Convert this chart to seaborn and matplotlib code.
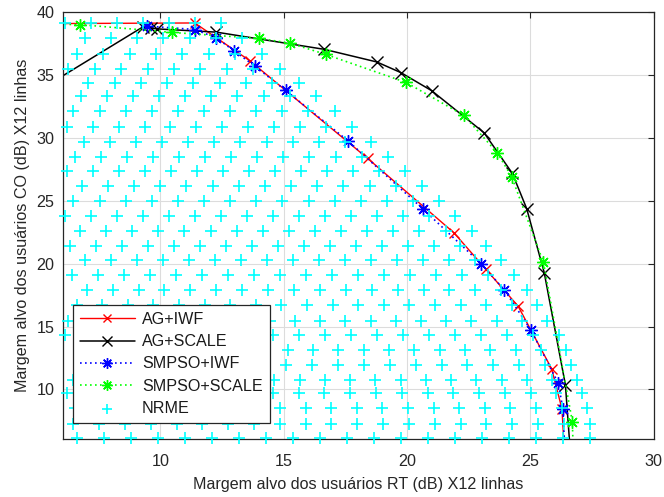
import numpy as np
import pandas as pd
import matplotlib
matplotlib.use("Agg")
import matplotlib.pyplot as plt
import seaborn as sns

# ---------------- data ----------------
ag_iwf_x = [5.5, 11.39, 13.62, 18.40, 21.90, 23.19, 24.50, 25.86, 26.28, 26.38]
ag_iwf_y = [39.10, 39.15, 36.15, 28.38, 22.46, 19.57, 16.63, 11.65, 8.45, 5.00]

ag_scale_x = [5.5, 9.30, 9.60, 9.85, 12.27, 16.65, 18.77, 19.75, 21.00, 23.12, 24.27, 24.85, 25.56, 26.42, 26.62]
ag_scale_y = [34.30, 38.85, 38.75, 38.68, 38.42, 37.05, 36.05, 35.20, 33.76, 30.42, 27.18, 24.38, 19.30, 10.36, 5.00]

smpso_iwf_x = [9.45, 11.39, 12.27, 12.97, 13.82, 15.08, 17.60, 20.63, 23.00, 23.95, 25.03, 26.13, 26.32, 26.40]
smpso_iwf_y = [38.90, 38.63, 37.97, 36.95, 35.73, 33.78, 29.78, 24.38, 20.00, 17.90, 14.70, 10.50, 8.43, 5.00]

smpso_scale_x = [5.5, 6.75, 10.45, 14.00, 15.25, 16.70, 19.96, 22.30, 23.66, 24.24, 25.53, 26.70, 26.74]
smpso_scale_y = [39.05, 39.02, 38.40, 37.92, 37.55, 36.65, 34.42, 31.80, 28.82, 26.92, 20.10, 7.45, 5.00]

# NRME region: rows of '+' markers (row height, first / last point, number of points)
nrme_row_y = [39.17, 37.97, 36.72, 35.52, 34.37, 33.31, 32.11, 30.90, 29.68, 28.50,
              27.35, 26.17, 24.97, 23.78, 22.59, 21.45, 20.26, 19.07, 17.88, 16.69,
              15.47, 14.30, 13.10, 11.93, 10.74, 9.68, 8.49, 7.25, 6.11]
nrme_row_first = [6.14, 6.94, 6.61, 6.27, 7.08, 6.79, 6.47, 6.20, 6.88, 6.54,
                  6.20, 6.81, 6.47, 6.15, 6.74, 6.34, 6.95, 6.41, 7.01, 6.60,
                  6.24, 6.14, 6.94, 6.69, 6.44, 6.20, 6.55, 6.47, 6.61]
nrme_row_last = [12.47, 13.30, 14.10, 14.83, 15.60, 16.29, 17.06, 17.77, 18.54, 19.21,
                 19.93, 20.60, 21.30, 21.95, 22.62, 23.22, 23.80, 24.33, 24.87, 25.28,
                 25.68, 26.15, 26.45, 26.65, 26.90, 27.10, 27.30, 27.40, 27.43]
nrme_row_count = [7, 7, 8, 9, 9, 10, 11, 12, 12, 13,
                  14, 14, 15, 16, 16, 17, 17, 18, 18, 19,
                  20, 20, 20, 20, 21, 21, 21, 21, 20]

x_ticks = [10, 15, 20, 25, 30]
y_ticks = [10, 15, 20, 25, 30, 35, 40]

# ---------------- style ----------------
sns.set_style("white")
plt.rcParams["font.family"] = ["Liberation Sans", "DejaVu Sans"]
TXT = "#262626"
FS = 11.6

fig = plt.figure(figsize=(6.64, 4.97), dpi=100)
ax = fig.add_axes([0.0953, 0.1167, 0.8892, 0.8586])

ast = (8, 2, 0)  # MATLAB-like asterisk

series = [
    ("AG+IWF", ag_iwf_x, ag_iwf_y, "#ff0000", "-", "x", 7, 1.0),
    ("AG+SCALE", ag_scale_x, ag_scale_y, "#000000", "-", "x", 8, 1.1),
    ("SMPSO+IWF", smpso_iwf_x, smpso_iwf_y, "#0000ff", (0, (1, 2)), ast, 9, 1.2),
    ("SMPSO+SCALE", smpso_scale_x, smpso_scale_y, "#00ff00", (0, (1, 2)), ast, 9, 1.2),
]
for name, xs, ys, col, ls, mk, ms, lw in series:
    df = pd.DataFrame({"x": xs, "y": ys})
    sns.lineplot(data=df, x="x", y="y", sort=False, estimator=None, ax=ax,
                 color=col, linestyle=ls, linewidth=lw, marker=mk,
                 markersize=ms, markeredgecolor=col, markerfacecolor=col,
                 markeredgewidth=1.0, label=name)

rows = []
for yv, x0, x1, n in zip(nrme_row_y, nrme_row_first, nrme_row_last, nrme_row_count):
    for xv in np.linspace(x0, x1, n):
        rows.append((xv, yv))
nrme = pd.DataFrame(rows, columns=["x", "y"])
sns.scatterplot(data=nrme, x="x", y="y", ax=ax, marker="+", s=85,
                color="#00ffff", linewidth=1.2, label="NRME", clip_on=False,
                zorder=3)

ax.set_xlim(6.06, 30)
ax.set_ylim(6.06, 40)
ax.set_xticks(x_ticks)
ax.set_yticks(y_ticks)
ax.grid(True, color="#dcdcdc", linewidth=0.8)
ax.set_axisbelow(True)
for sp in ax.spines.values():
    sp.set_visible(True)
    sp.set_color(TXT)
    sp.set_linewidth(0.9)
ax.tick_params(direction="in", length=4, width=0.8, top=True, right=True,
               colors=TXT, labelsize=FS)
ax.tick_params(axis="x", pad=11)
ax.tick_params(axis="y", pad=6.5)
ax.set_xlabel("Margem alvo dos usuários RT (dB) X12 linhas", fontsize=FS,
              color=TXT, labelpad=5.5)
ax.set_ylabel("Margem alvo dos usuários CO (dB) X12 linhas", fontsize=FS,
              color=TXT, labelpad=4.5)

leg = ax.legend(loc="lower left", bbox_to_anchor=(0.016, 0.037), fontsize=FS,
                frameon=True, fancybox=False, framealpha=1, edgecolor=TXT,
                handlelength=3.4, handletextpad=0.45, labelspacing=0.45,
                borderpad=0.45, borderaxespad=0, markerscale=0.85)
leg.get_frame().set_linewidth(0.9)
leg.set_zorder(10)
for t in leg.get_texts():
    t.set_color("#1a1a1a")

fig.savefig("out.png", dpi=100)
